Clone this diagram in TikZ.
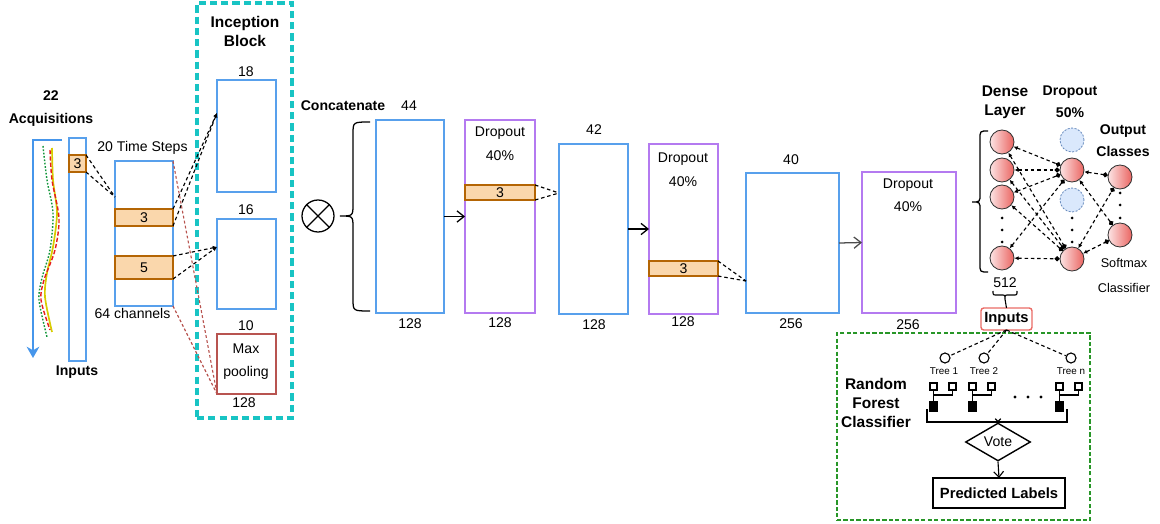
\documentclass[tikz,border=0pt]{standalone}
\usepackage{fontspec}
\setmainfont{Liberation Sans}
\usetikzlibrary{arrows.meta,shapes.geometric,calc}

\definecolor{layerblue}{RGB}{88,160,236}
\definecolor{droppurple}{RGB}{180,122,240}
\definecolor{bandfill}{RGB}{250,215,172}
\definecolor{banddraw}{RGB}{180,101,4}
\definecolor{poolred}{RGB}{184,84,80}
\definecolor{incteal}{RGB}{24,196,196}
\definecolor{rfgreen}{RGB}{40,150,40}
\definecolor{neuronlight}{RGB}{252,228,228}
\definecolor{neurondark}{RGB}{234,100,96}
\definecolor{dropfill}{RGB}{218,232,252}
\definecolor{dropdraw}{RGB}{108,142,191}
\definecolor{inred}{RGB}{234,107,102}
\definecolor{acqblue}{RGB}{70,150,235}
\definecolor{waveyellow}{RGB}{215,205,0}
\definecolor{wavered}{RGB}{230,30,30}
\definecolor{wavegreen}{RGB}{20,150,60}

% rectangle node given by its corners (x1,y1)-(x2,y2), y measured downwards
\newcommand\blk[7]{\node[#2, minimum width={(#5-#3)*0.025cm}, minimum height={(#6-#4)*0.025cm}] (#1) at ({(#3+#5)/2},{-(#4+#6)/2}) {#7};}

% decision-tree glyph: two open leaves over a filled root
\newcommand\treeicon[2]{%
  \node[sqopen] (#1a) at (#2+3.5,-386.5) {};
  \node[sqopen] (#1b) at (#2+22.5,-386.5) {};
  \node[sqfill] (#1c) at (#2+3.5,-406.5) {};
  \draw[treeline] (#1a.south) -- (#1c.north);
  \draw[treeline] (#1a.south |- 0,-395) -- (#1b.south |- 0,-395) -- (#1b.south);
}

\begin{document}
\begin{tikzpicture}[x=0.025cm, y=0.025cm,
  txt/.style={inner sep=0, font=\fontsize{10}{12}\selectfont},
  btxt/.style={inner sep=0, font=\bfseries\fontsize{10}{12}\selectfont},
  box/.style={draw, line width=1pt, inner sep=0, outer sep=0},
  conv/.style={box, draw=layerblue},
  drop/.style={box, draw=droppurple},
  band/.style={box, draw=banddraw, fill=bandfill, line width=0.9pt, font=\fontsize{10}{12}\selectfont},
  poolbox/.style={box, draw=poolred},
  incbox/.style={draw=incteal, line width=2.2pt, dash pattern=on 5pt off 3pt, inner sep=0},
  rfbox/.style={draw=rfgreen, line width=1pt, dash pattern=on 3pt off 1.6pt, inner sep=0},
  dline/.style={dash pattern=on 2.5pt off 2pt, line width=0.8pt},
  tipline/.style={dline, -{Latex[length=3pt,width=3pt]}},
  pooldash/.style={draw=poolred, dash pattern=on 2pt off 1.6pt, line width=0.8pt},
  flow/.style={line width=0.9pt, -{Straight Barb[length=5pt,width=8pt]}},
  neuron/.style={circle, draw=black!80, line width=0.6pt, minimum size=24*0.025cm, inner sep=0,
                 left color=neuronlight, right color=neurondark},
  ghost/.style={circle, draw=dropdraw, dash pattern=on 1.5pt off 1pt, line width=0.6pt, fill=dropfill,
                minimum size=24*0.025cm, inner sep=0},
  ndot/.style={circle, fill=black, minimum size=3*0.025cm, inner sep=0},
  nconn/.style={dline, {Latex[length=3pt,width=3pt]}-{Circle[length=3.5pt]}},
  sqopen/.style={draw, fill=white, line width=0.8pt, minimum size=7*0.025cm, inner sep=0},
  sqfill/.style={draw, fill=black, line width=0.8pt, minimum width=7*0.025cm, minimum height=9*0.025cm, inner sep=0},
  treeline/.style={line width=0.8pt},
  rootc/.style={circle, draw, line width=0.8pt, minimum size=10*0.025cm, inner sep=0},
  bracestyle/.style={line width=0.9pt}
]
\useasboundingbox (0,0) rectangle (1160,-524);

% ---------- raw acquisitions ----------
\node[btxt, align=center, font=\bfseries\fontsize{10}{16.4}\selectfont] (acq) at (51,-108.5) {22\\Acquisitions};
\draw[acqblue, line width=1.4pt, -{Stealth[length=8pt,width=9pt,inset=2.5pt]}] (62,-140) -- (33,-140) -- (33,-358);
\draw[wavegreen, line width=1pt, dash pattern=on 1.2pt off 1.2pt] plot[smooth] coordinates
  {(43,-146) (47,-180) (53,-213) (50,-250) (42,-278) (39,-300) (47,-337)};
\draw[waveyellow, line width=1.2pt] plot[smooth] coordinates
  {(52,-148) (53,-180) (57,-213) (53,-247) (47,-273) (45,-297) (52,-332)};
\draw[wavered, line width=1pt, dash pattern=on 3pt off 1.5pt] plot[smooth] coordinates
  {(50,-150) (52,-180) (59,-218) (55,-250) (44,-280) (41,-300) (50,-330)};

% ---------- input tensor ----------
\blk{inp}{conv}{69}{138}{86}{361}{}
\blk{s3}{band}{69}{155}{86}{172}{3}
\node[btxt] (inplbl) at (77,-372) {Inputs};
\node[txt] (tslbl) at (142.5,-148) {20 Time Steps};
\blk{ts}{conv}{115}{161}{173}{306}{}
\blk{ts3}{band}{115}{209}{173}{226}{3}
\blk{ts5}{band}{115}{256}{173}{279}{5}
\node[txt] (chlbl) at (132.5,-313) {64 channels};
\coordinate (tsin) at (115,-197);
\draw[dline] (s3.north east) -- (tsin);
\draw[dline] (s3.south east) -- (tsin);

% ---------- inception block ----------
\blk{incep}{incbox}{197}{3}{292}{418}{}
\node[btxt, align=center, font=\bfseries\fontsize{11}{13.5}\selectfont] (inctitle) at (245,-31) {Inception\\Block};
\node[txt] (k18) at (246,-72) {18};
\blk{br1}{conv}{217}{80}{276}{192}{}
\node[txt] (k16) at (246,-210) {16};
\blk{br2}{conv}{217}{219}{276}{309}{}
\node[txt] (k10) at (246,-326) {10};
\blk{mp}{poolbox}{217}{334}{276}{394}{}
\node[txt, align=center, font=\fontsize{10}{16.4}\selectfont] (mplbl) at (246,-361.5) {Max\\pooling};
\node[txt] (k128) at (244,-403) {128};

\coordinate (br1in) at (217,-113);
\coordinate (br2in) at (217,-247);
\draw[tipline] (ts3.north east) -- (br1in);
\draw[tipline] (ts3.south east) -- (br1in);
\draw[tipline] (ts5.north east) -- (br2in);
\draw[tipline] (ts5.south east) -- (br2in);
\draw[pooldash] (ts.north east) -- (mp.south west);
\draw[pooldash] (ts.south east) -- (mp.south west);

% ---------- concatenation ----------
\node[btxt] (cat) at (343,-106) {Concatenate};
\node[txt] (k44) at (409,-106) {44};
\node[circle, draw, line width=0.9pt, minimum size=32*0.025cm, inner sep=0] (otimes) at (318,-216) {};
\draw[line width=0.9pt] (otimes.north west) -- (otimes.south east);
\draw[line width=0.9pt] (otimes.north east) -- (otimes.south west);
\draw[bracestyle] (370,-122) .. controls (353,-122) .. (353,-134) -- (353,-204)
  .. controls (353,-216) .. (340,-216) .. controls (353,-216) .. (353,-228) -- (353,-299)
  .. controls (353,-311) .. (370,-311);

% ---------- convolution / dropout stack ----------
\blk{c44}{conv}{376}{120}{444}{313}{}
\node[txt] (c44n) at (410,-324) {128};
\blk{d1}{drop}{465}{120}{535}{313}{}
\node[txt, align=center, font=\fontsize{10}{17}\selectfont] (d1t) at (500,-144) {Dropout\\40\%};
\blk{d1b}{band}{465}{185}{535}{200}{3}
\node[txt] (d1n) at (500,-323) {128};

\blk{c42}{conv}{559}{144}{628}{314}{}
\node[txt] (c42t) at (594,-130) {42};
\node[txt] (c42n) at (594,-325) {128};
\blk{d2}{drop}{649}{144}{718}{314}{}
\node[txt, align=center, font=\fontsize{10}{17}\selectfont] (d2t) at (683,-170) {Dropout\\40\%};
\blk{d2b}{band}{649}{261}{718}{276}{3}
\node[txt] (d2n) at (683,-322) {128};

\blk{c40}{conv}{746}{173}{839}{313}{}
\node[txt] (c40t) at (791,-160) {40};
\node[txt] (c40n) at (791,-324) {256};
\blk{d3}{drop}{862}{172}{956}{313}{}
\node[txt, align=center, font=\fontsize{10}{16.4}\selectfont] (d3t) at (908,-195.5) {Dropout\\40\%};
\node[txt] (d3n) at (908,-325) {256};

\draw[flow] (c44.east) -- (d1.west);
\draw[flow] (c42.east) -- (d2.west);
\draw[flow, draw=black!70] (c40.east) -- (d3.west);
\coordinate (c42in) at (559,-193);
\coordinate (c40in) at (746,-281);
\draw[dline] (d1b.north east) -- (c42in);
\draw[dline] (d1b.south east) -- (c42in);
\draw[dline] (d2b.north east) -- (c40in);
\draw[dline] (d2b.south east) -- (c40in);

% ---------- dense head ----------
\node[btxt, align=center, font=\bfseries\fontsize{11}{13.5}\selectfont] (denset) at (1005,-102.5) {Dense\\Layer};
\node[btxt, align=center, font=\bfseries\fontsize{10}{15.6}\selectfont] (dropt) at (1070,-102) {Dropout\\50\%};
\node[btxt, align=center, font=\bfseries\fontsize{10}{15.6}\selectfont] (outt) at (1123,-141) {Output\\Classes};
\node[txt, align=center, font=\fontsize{9}{17.8}\selectfont] (softt) at (1124,-275.5) {Softmax\\Classifier};

\draw[bracestyle] (988,-131) .. controls (980,-131) .. (980,-139) -- (980,-194)
  .. controls (980,-202) .. (972,-202) .. controls (980,-202) .. (980,-210) -- (980,-264)
  .. controls (980,-272) .. (988,-272);

\node[neuron] (n1) at (1002,-142) {};
\node[neuron] (n2) at (1002,-170) {};
\node[neuron] (n3) at (1002,-197) {};
\node[neuron] (n4) at (1002,-258) {};
\node[ghost] (q1) at (1072,-140) {};
\node[neuron] (p1) at (1072,-170) {};
\node[ghost] (q2) at (1072,-200) {};
\node[neuron] (p2) at (1072,-259) {};
\node[neuron] (o1) at (1120,-177) {};
\node[neuron] (o2) at (1120,-235) {};

\foreach \yy [count=\k] in {218,230,242}{
  \node[ndot] (nd\k) at (1002,-\yy) {};
  \node[ndot] (pd\k) at (1072,-\yy) {};
}
\foreach \yy [count=\k] in {193,205,218}{
  \node[ndot] (od\k) at (1120,-\yy) {};
}

\foreach \a in {n1,n2,n3,n4}{
  \foreach \b in {p1,p2}{\draw[nconn] (\a) -- (\b);}
}
\foreach \a in {p1,p2}{
  \foreach \b in {o1,o2}{\draw[nconn] (\a) -- (\b);}
}

\node[txt] (n512) at (1005,-283) {512};
\draw[line width=0.8pt] (993,-291) .. controls (993,-295) .. (997,-295) -- (1001,-295)
  .. controls (1005,-295) .. (1005,-299) .. controls (1005,-295) .. (1009,-295) -- (1013,-295)
  .. controls (1017,-295) .. (1017,-291);
\coordinate (b512) at (1005,-299);
\blk{rfin}{box, draw=inred, rounded corners=2pt, font=\bfseries\fontsize{10.5}{12}\selectfont}{981}{308}{1032}{330}{Inputs}
\draw[line width=0.8pt] (b512) -- (rfin.north);

% ---------- random forest ----------
\blk{rf}{rfbox}{837}{333}{1090}{520}{}
\node[btxt, align=center, font=\bfseries\fontsize{11}{13.5}\selectfont] (rft) at (876,-403) {Random\\Forest\\Classifier};

\node[rootc] (r1) at (945,-358) {};
\node[rootc] (r2) at (984,-358) {};
\node[rootc] (rn) at (1071,-358) {};
\draw[dline] (rfin.south) -- (r1);
\draw[dline] (rfin.south) -- (r2);
\draw[dline] (rfin.south) -- (rn);
\node[txt, font=\fontsize{7}{8}\selectfont] (tl1) at (944,-371) {Tree 1};
\node[txt, font=\fontsize{7}{8}\selectfont] (tl2) at (984,-371) {Tree 2};
\node[txt, font=\fontsize{7}{8}\selectfont] (tln) at (1071,-371) {Tree n};

\treeicon{ta}{930}
\treeicon{tb}{969}
\treeicon{tc}{1056}
\foreach \xx in {1015,1028,1041}{\fill (\xx,-397) circle (1.6);}

\coordinate (bl) at (927,-409);
\coordinate (br) at (1067,-409);
\coordinate (bmid) at (998,-422);
\draw[line width=0.9pt] (bl) -- (927,-422) -- (1067,-422) -- (br);
\node[diamond, draw, line width=1pt, minimum width=65*0.025cm, minimum height=32*0.025cm, inner sep=0,
      font=\fontsize{10}{12}\selectfont] (vote) at (998,-442) {Vote};
\draw[line width=0.8pt, -{Straight Barb[length=2pt,width=4pt]}] (bmid) -- (vote.north);
\blk{pred}{box, draw=black, line width=1.2pt, font=\bfseries\fontsize{10.5}{12}\selectfont}{933}{478}{1065}{508}{Predicted Labels}
\draw[line width=0.8pt, -{Straight Barb[length=4pt,width=7pt]}] (vote.south) -- (pred.north);

\end{tikzpicture}
\end{document}
